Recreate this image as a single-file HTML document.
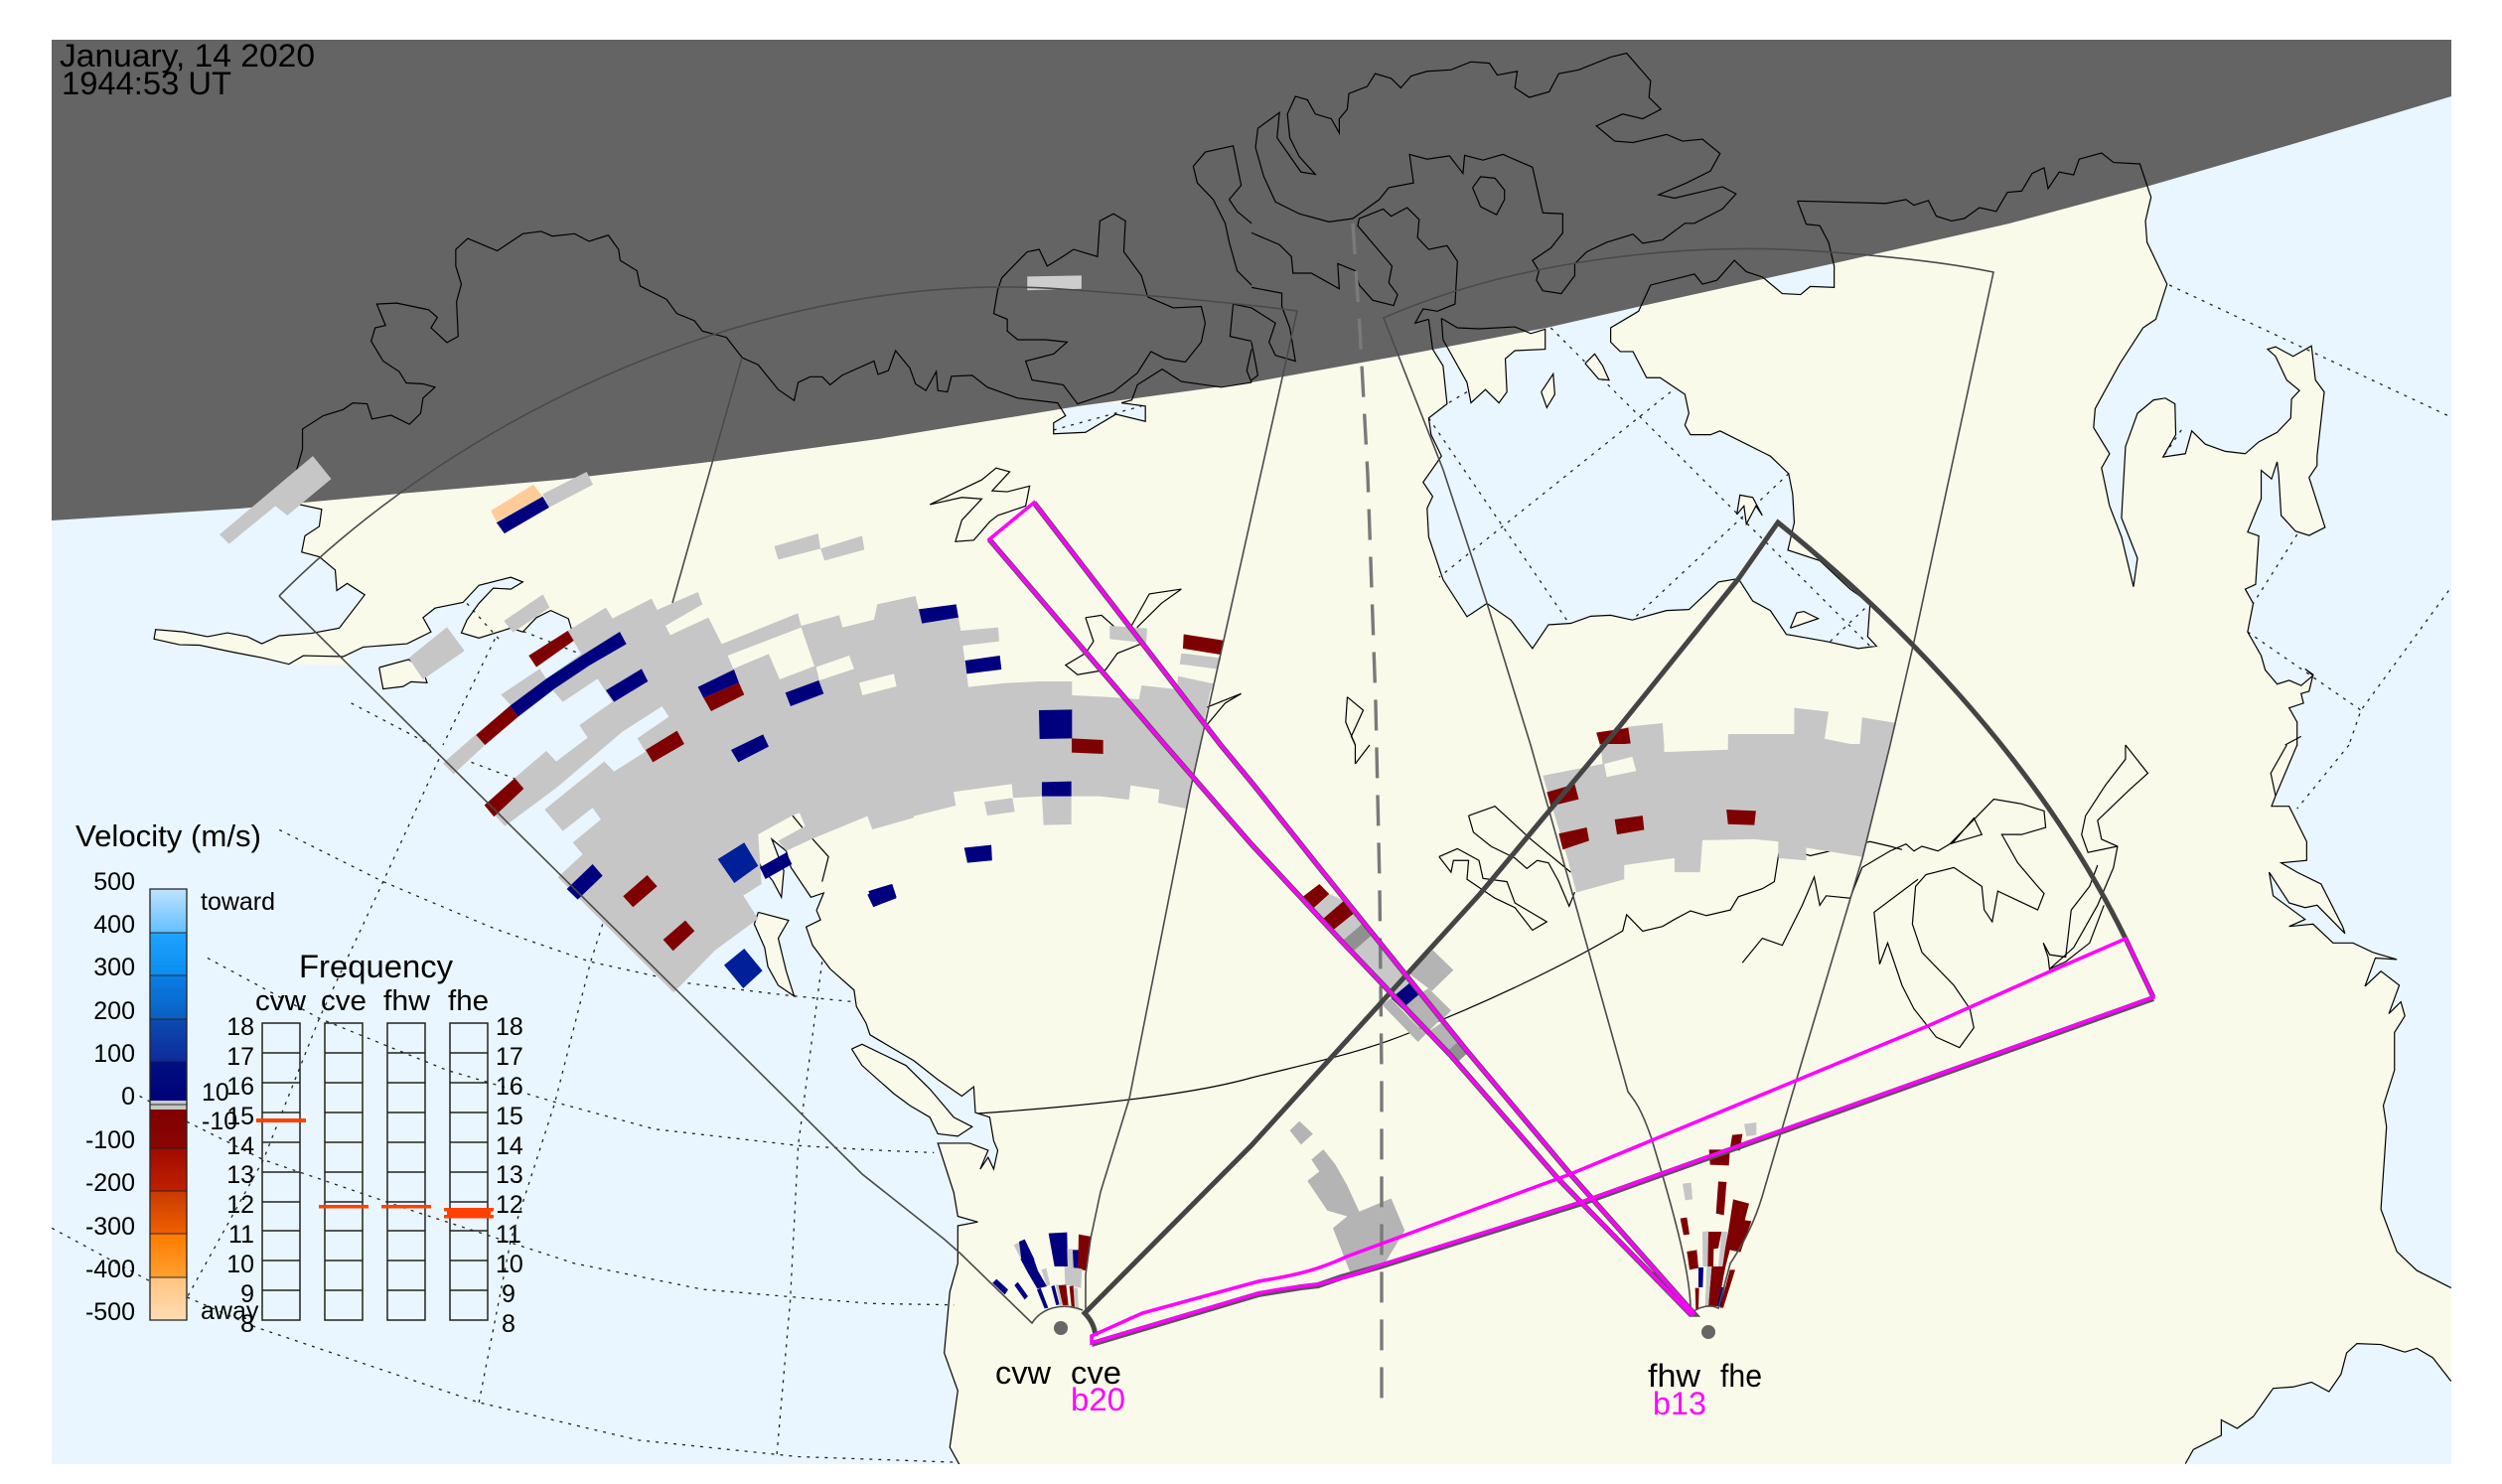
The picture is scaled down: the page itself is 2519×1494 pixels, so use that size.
<!DOCTYPE html>
<html><head><meta charset="utf-8"><style>
html,body{margin:0;padding:0;background:#fff;width:2519px;height:1494px;overflow:hidden}
svg{display:block;font-family:"Liberation Sans",Helvetica,Arial,sans-serif}
polyline,polygon,path,line,rect{vector-effect:non-scaling-stroke}
.c polyline,.c polygon,.c use{fill:none;stroke:#000;stroke-width:1.2}
.d polyline{fill:none;stroke:#222;stroke-width:1.3;stroke-dasharray:3 6}
.g{fill:#c6c6c6}.n{fill:#00007f}.r{fill:#7f0000}.b{fill:#001f99}.k{fill:#909090}.h{fill:#b4b4b4}.q{fill:#c8c8c8}
.f{fill:none;stroke:#4a4a4a;stroke-width:1.6}
.t{fill:none;stroke:#444;stroke-width:5}
.p{fill:none;stroke:#ff00ff;stroke-width:3.5}
.u{fill:none;stroke:#555;stroke-width:6}
</style></head><body>
<svg width="2519" height="1494" viewBox="0 0 2519 1494" xmlns="http://www.w3.org/2000/svg">
<defs>
<clipPath id="m"><rect x="52" y="40" width="2416" height="1434"/></clipPath>
<polyline id="hud" points="684,423 695,472 712,475 723,510 730,560 730,605 700,603 688,620 665,618 640,583 620,572 605,548 583,590 565,598 555,577 500,600 485,655 450,690 450,720 462,740 478,740 495,795 512,795 543,830 548,870 543,895 550,915 575,915 587,907 650,960 673,997 678,1040 680,1100 672,1158 712,1180 750,1240 775,1270 772,1340 783,1360 760,1365 720,1350 670,1335 650,1285 628,1265 610,1218 585,1225 548,1283 520,1285 477,1305 450,1295 425,1297 400,1312 372,1315 352,1365 325,1305 295,1270 270,1298 240,1220 222,1130 220,1070 227,1045 215,1015 238,960 225,915 222,880 245,850 240,770 227,735 222,672"/>
<polyline id="mel" points="238,670 258,690 285,692 330,688 350,702 368,693 368,735 330,738 318,755 320,825 310,848 293,820 275,848 270,805 260,775 240,715 238,670"/>
<polyline id="gulf" points="1170,1525 1180,1495 1215,1465 1215,1432 1235,1450 1255,1425 1280,1365 1305,1362 1328,1352 1350,1372 1365,1335 1372,1290 1385,1270 1415,1272 1445,1288 1460,1280 1480,1300 1503,1350 1560,1560 1170,1560"/>
<polyline id="small1" points="1320,913 1320,890 1335,875 1325,848 1405,848 1435,855 1435,887 1398,872 1360,910 1320,913"/>
<polygon id="pen" points="193,1345 195,1325 230,1330 260,1340 285,1332 310,1340 328,1355 350,1338 390,1333 425,1322 440,1400 362,1398 330,1385 290,1372 250,1358 225,1357"/>
<linearGradient id="a0" x1="0" y1="0" x2="0" y2="1"><stop offset="0" stop-color="#bfe3ff"/><stop offset="1" stop-color="#62bfff"/></linearGradient>
<linearGradient id="a1" x1="0" y1="0" x2="0" y2="1"><stop offset="0" stop-color="#1fa3ff"/><stop offset="1" stop-color="#0a8eef"/></linearGradient>
<linearGradient id="a2" x1="0" y1="0" x2="0" y2="1"><stop offset="0" stop-color="#0a7fe6"/><stop offset="1" stop-color="#0a5fc0"/></linearGradient>
<linearGradient id="a3" x1="0" y1="0" x2="0" y2="1"><stop offset="0" stop-color="#0c4cb0"/><stop offset="1" stop-color="#0e2a9a"/></linearGradient>
<linearGradient id="a4" x1="0" y1="0" x2="0" y2="1"><stop offset="0" stop-color="#00107f"/><stop offset="1" stop-color="#00007a"/></linearGradient>
<linearGradient id="a5" x1="0" y1="0" x2="0" y2="1"><stop offset="0" stop-color="#7f0000"/><stop offset="1" stop-color="#8c0505"/></linearGradient>
<linearGradient id="a6" x1="0" y1="0" x2="0" y2="1"><stop offset="0" stop-color="#a00a00"/><stop offset="1" stop-color="#c02000"/></linearGradient>
<linearGradient id="a7" x1="0" y1="0" x2="0" y2="1"><stop offset="0" stop-color="#c83a00"/><stop offset="1" stop-color="#f06000"/></linearGradient>
<linearGradient id="a8" x1="0" y1="0" x2="0" y2="1"><stop offset="0" stop-color="#ff7a00"/><stop offset="1" stop-color="#ffa030"/></linearGradient>
<linearGradient id="a9" x1="0" y1="0" x2="0" y2="1"><stop offset="0" stop-color="#ffc480"/><stop offset="1" stop-color="#ffdcb4"/></linearGradient>
</defs>
<rect width="2519" height="1494" fill="#fff"/>
<g clip-path="url(#m)">
<rect x="52" y="40" width="2416" height="1434" fill="#fafaeb"/>

<!-- water fills -->
<g fill="#e9f6ff">
<g transform="scale(.8036 .4783)">
<polygon points="-50,900 378,900 370,1060 403,1072 400,1108 382,1128 378,1162 400,1172 420,1200 422,1243 435,1228 457,1252 425,1322 390,1333 350,1338 328,1355 310,1340 285,1332 260,1340 230,1330 195,1325 193,1345 225,1357 250,1358 290,1372 330,1385 362,1398 380,1380 430,1382 455,1362 510,1355 540,1330 530,1300 545,1280 580,1268 600,1232 640,1215 655,1225 640,1240 618,1238 600,1270 585,1305 578,1332 600,1343 640,1322 655,1330 672,1300 690,1285 712,1302 718,1335 855,1478 896,1570 -50,1570"/>
<use href="#small1"/>
</g>
<g transform="translate(0 750) scale(.8036 .4745)">
<polygon points="896,-2 937,90 946,193 950,246 954,260 968,288 979,323 982,267 967,200 985,225 991,260 1016,323 1032,314 1023,351 1028,371 1010,386 1018,425 1040,475 1070,520 1073,555 1085,590 1090,615 1145,670 1175,710 1205,745 1220,725 1222,780 1240,790 1245,840 1250,860 1245,900 1238,875 1228,900 1238,860 1215,845 1175,845 1195,950 1200,1000 1225,1012 1200,1020 1200,1100 1190,1160 1183,1290 1200,1370 1190,1490 1203,1530 -50,1530 -50,-2"/>
</g>
<g transform="translate(1260 0) scale(.8036 .4783)">
<use href="#hud"/>
<polygon points="1113,345 1127,415 1120,465 1122,510 1147,598 1133,672 1117,690 1088,765 1057,860 1055,900 1075,955 1065,985 1075,1065 1090,1130 1105,1235 1110,1175 1090,1090 1095,940 1110,870 1130,842 1145,838 1157,850 1158,915 1142,962 1170,955 1178,907 1195,935 1220,950 1245,955 1262,930 1285,910 1302,880 1303,840 1313,822 1297,800 1283,750 1273,735 1283,730 1305,750 1328,728 1333,800 1344,825 1335,960 1335,980 1325,1005 1345,1110 1325,1127 1308,1118 1290,1085 1287,1000 1285,972 1278,1008 1265,990 1265,1050 1248,1120 1262,1128 1258,1230 1245,1240 1255,1270 1248,1330 1265,1380 1270,1410 1285,1440 1300,1432 1315,1443 1330,1422 1320,1408 1330,1420 1325,1455 1315,1460 1318,1480 1300,1490 1310,1520 1310,1570 1700,1570 1700,200 1113,200"/>
</g>
<g transform="translate(1260 750) scale(.8036 .4745)">
<polygon points="1310,-2 1283,108 1278,130 1300,130 1322,205 1322,245 1290,250 1310,270 1340,295 1367,385 1370,400 1335,340 1320,345 1300,335 1275,270 1280,320 1320,370 1300,385 1330,380 1355,420 1380,420 1405,440 1435,455 1408,452 1395,512 1415,480 1438,510 1425,570 1440,545 1445,575 1432,610 1432,690 1418,765 1422,810 1415,985 1435,1075 1460,1115 1503,1152 1600,1200 1700,1200 1700,-2"/>
<use href="#gulf"/>
</g>
</g>

<!-- grid lines -->
<g class="d">
<g transform="translate(0 750) scale(.8036 .4745)">
<polyline points="350,180 480,290 620,390 740,460 820,490 860,505 980,530 1070,545"/>
<polyline points="260,452 400,580 560,690 700,760 820,815 1000,850 1100,860 1170,865"/>
<polyline points="175,745 235,800 330,880 520,990 720,1100 880,1155 1090,1185 1195,1188"/>
<polyline points="65,1025 185,1135 320,1235 600,1395 800,1475 1000,1510 1200,1522"/>
<polyline points="550,30 480,290 400,580 330,880 235,1170"/>
<polyline points="755,380 740,460 695,760 640,1050 600,1395"/>
<polyline points="1030,460 1000,850 990,1180 973,1510"/>
<polyline points="580,30 690,100"/>
</g>
<g transform="scale(.8036 .4783)">
<polyline points="1320,905 1430,855"/>
<polyline points="585,1270 625,1345"/>
<polyline points="620,1345 555,1568"/>
<polyline points="645,1322 725,1375"/>
<polyline points="440,1480 540,1568"/>
</g>
<g transform="translate(1260 0) scale(.8036 .4783)">
<polyline points="1150,600 1503,878"/>
<polyline points="1500,1243 1390,1495 1375,1568"/>
<polyline points="1310,1125 1255,1270"/>
<polyline points="1248,1330 1390,1495"/>
<polyline points="375,690 775,1360"/>
<polyline points="525,825 235,1215"/>
<polyline points="673,997 477,1305"/>
<polyline points="222,880 395,1305"/>
<polyline points="725,1350 775,1270"/>
<polyline points="270,825 245,850"/>
<polyline points="1165,905 1142,962"/>
</g>
<g transform="translate(1260 750) scale(.8036 .4745)">
<polyline points="1375,0 1310,135"/>
</g>
</g>

<!-- land islands -->
<g fill="#fafaeb">
<g transform="scale(.8036 .4783)">
<polygon points="475,1405 480,1450 505,1445 515,1435 535,1437 530,1410 512,1388"/>
<use href="#pen"/>
</g>
<g transform="translate(0 750) scale(.8036 .4745)">
<polygon points="1067,645 1080,635 1135,680 1165,730 1195,790 1218,810 1200,830 1175,825 1165,790 1140,765 1120,740 1080,680"/>
<polygon points="950,355 988,372 975,410 985,480 995,533 975,510 962,470 958,430 945,380"/>
</g>
<g transform="translate(1260 0) scale(.8036 .4783)">
<use href="#mel"/>
<polygon points="418,765 430,745 440,770 448,800 435,798"/>
<polygon points="363,825 378,787 380,830 370,858"/>
<polygon points="608,1083 612,1042 628,1047 640,1085 632,1065 620,1103 617,1065"/>
<polygon points="675,1322 683,1290 692,1287 710,1302"/>
</g>
</g>

<!-- night -->
<polygon fill="#646464" points="52,40 2468,40 2468,97 2305,146 2164,187 2023,225 1847,265 1662,306 1557,330 1421,356 1260,385 1085,409 884,442 723,464 563,483 402,497 241,512 52,524"/>

<!-- coast lines -->
<g class="c">
<g transform="scale(.8036 .4783)">
<polyline points="370,1000 379,945 379,903 405,875 430,862 442,848 460,850 466,882 490,874 513,893 527,870 530,838 545,815 530,808 509,806 500,782 480,760 465,718 470,690 483,685 472,640 497,638 537,652 548,668 540,690 560,721 574,708 572,635 578,598 571,560 571,525 586,502 623,528 655,492 678,487 692,497 720,492 738,508 762,495 775,525 777,548 798,570 802,602 835,630 848,660 870,675 880,697 910,710 930,753 950,768 975,820 995,843 1000,805 1015,793 1030,793 1040,810 1055,790 1095,760 1100,788 1113,780 1122,738 1140,775 1147,808 1160,822 1173,782 1175,822 1187,825 1192,792 1218,790 1237,815 1275,838 1325,848 1335,875 1320,890 1320,913 1360,910 1398,872 1435,887 1435,855 1405,848 1418,842 1425,810 1456,777 1480,803 1530,815 1568,805"/>
<polyline points="370,1060 403,1072 400,1108 382,1128 378,1162 400,1172 420,1200 422,1243 435,1228 457,1252 425,1322 390,1333 350,1338 328,1355 310,1340 285,1332 260,1340 230,1330 195,1325 193,1345 225,1357 250,1358 290,1372 330,1385 362,1398 380,1380 430,1382 455,1362 510,1355 540,1330 530,1300 545,1280 580,1268 600,1232 640,1215 655,1225 640,1240 618,1238 600,1270 585,1305 578,1332 600,1343 640,1322 655,1330 672,1300 690,1285 712,1302 718,1335"/>
<polyline points="475,1405 480,1450 505,1445 515,1435 535,1437 530,1410 512,1388 475,1405"/>
<polyline points="1250,610 1245,660 1262,672 1262,697 1275,715 1310,715 1337,720 1320,745 1285,760 1293,800 1332,810 1350,850 1395,825 1425,785 1442,740 1460,755 1485,762 1505,720 1510,680 1505,645 1470,648 1438,625 1430,580 1408,530 1410,465 1395,450 1378,465 1375,540 1345,525 1327,545 1312,560 1302,525 1287,530 1255,585 1250,610"/>
<polyline points="1568,600 1550,570 1540,510 1535,470 1520,420 1500,385 1495,350 1510,320 1545,307 1555,390 1540,420 1550,445 1568,470"/>
<polyline points="1568,648 1545,640 1541,708 1568,718"/>
<polyline points="1568,735 1562,780 1568,805"/>
<polyline points="1165,1062 1230,1010 1248,985 1265,993 1243,1033 1262,1035 1290,1023 1285,1065 1250,1085 1240,1098 1220,1137 1197,1140 1205,1095 1230,1050 1205,1047 1165,1062"/>
<polyline points="1360,1300 1380,1295 1410,1340 1440,1250 1480,1240 1455,1270 1425,1320 1430,1355 1400,1375 1385,1410 1350,1420 1335,1400 1360,1375 1370,1350 1360,1300"/>
<polyline points="1510,1490 1555,1460 1535,1480 1510,1530"/>
</g>
<g transform="translate(0 750) scale(.8036 .4745)">
<polyline points="946,193 950,246 954,260 968,288 979,323 982,267 967,200 985,225 991,260 1016,323 1032,314 1023,351 1028,371 1010,386 1018,425 1040,475 1070,520 1073,555 1085,590 1090,615 1145,670 1175,710 1205,745 1220,725 1222,780 1240,790 1245,840 1250,860 1245,900 1238,875 1228,900 1238,860 1215,845 1175,845 1195,950 1200,1000 1225,1012 1200,1020 1200,1100 1190,1160 1183,1290 1200,1370 1190,1490 1203,1530"/>
<polyline points="1067,645 1080,635 1135,680 1165,730 1195,790 1218,810 1200,830 1175,825 1165,790 1140,765 1120,740 1080,680 1067,645"/>
<polyline points="950,355 988,372 975,410 985,480 995,533 975,510 962,470 958,430 945,380 950,355"/>
<polyline points="993,150 1005,175 1038,237 1030,290"/>
</g>
<g transform="translate(1260 0) scale(.8036 .4783)">
<use href="#mel"/>
<use href="#hud"/>
<polyline points="684,423 795,428 820,420 830,432 848,422 858,455 877,465 893,460 912,437 933,445 947,405 965,402 978,365 993,353 998,397 1012,362 1030,368 1037,335 1065,322 1080,342 1113,345 1127,415 1120,465 1122,510 1147,598 1133,672 1117,690 1088,765 1057,860 1055,900 1075,955 1065,985 1075,1065 1090,1130 1105,1235 1110,1175 1090,1090 1095,940 1110,870 1130,842 1145,838 1157,850 1158,915 1142,962 1170,955 1178,907 1195,935 1220,950 1245,955 1262,930 1285,910 1302,880 1303,840 1313,822 1297,800 1283,750 1273,735 1283,730 1305,750 1328,728 1333,800 1344,825 1335,960 1335,980 1325,1005 1345,1110 1325,1127 1308,1118 1290,1085 1287,1000 1285,972 1278,1008 1265,990 1265,1050 1248,1120 1262,1128 1258,1230 1245,1240 1255,1270 1248,1330 1265,1380 1270,1410 1285,1440 1300,1432 1315,1443 1330,1422 1320,1408 1330,1420 1325,1455 1315,1460 1318,1480 1300,1490 1310,1520 1310,1570"/>
<polyline points="1295,1568 1315,1550"/>
<polyline points="0,490 35,515 50,540 52,575 75,575 110,608 108,555 130,570 135,600 152,632 178,643 183,620 172,595 176,560 133,475 135,460 165,440 175,455 195,437 210,462 208,500 222,525 245,517 258,550 255,640 233,655 215,650 205,680 222,672"/>
<polyline points="8,270 35,237 32,290 62,362 80,367 60,330 48,290 45,240 55,203 70,210 80,240 100,250 110,280 110,250 120,230 122,197 145,182 155,155 175,165 187,185 200,160 220,150 250,147 275,130 298,133 308,158 333,150 330,185 348,205 373,193 385,155 410,147 450,120 470,112 500,170 498,205 513,230 490,250 465,240 432,265 455,297 478,300 520,283 540,297 565,293 587,323 575,360 545,385 510,410 530,417 590,393 607,408 590,440 555,470 543,470 515,505 490,512 478,493 445,510 420,530 405,555 405,580 388,618 365,612 357,590 360,570 352,548 375,522 390,490 390,450 365,448 352,352 315,325 290,337 267,327 265,365 248,328 220,335 198,325 203,385 172,395 160,420 127,460 97,467 60,450 30,425 15,370 5,310 8,270"/>
<polyline points="277,395 287,372 305,375 317,400 317,420 307,452 287,435 277,395"/>
<polyline points="0,605 38,617 38,645 48,690 55,760 30,748 22,720 30,680 0,648"/>
<polyline points="0,720 8,790 0,800"/>
<polyline points="418,765 430,745 440,770 448,800 435,798 418,765"/>
<polyline points="363,825 378,787 380,830 370,858 363,825"/>
<polyline points="608,1083 612,1042 628,1047 640,1085 632,1065 620,1103 617,1065 608,1083"/>
<polyline points="675,1322 683,1290 692,1287 710,1302 675,1322"/>
<polyline points="120,1467 140,1495 125,1550 130,1568"/>
<polyline points="120,1467 118,1520 130,1568"/>
</g>
<g transform="translate(1260 750) scale(.8036 .4745)">
<polyline points="130,40 148,0"/><polyline points="130,40 130,0"/>
<polyline points="1310,0 1283,108 1278,130 1300,130 1322,205 1322,245 1290,250 1310,270 1340,295 1367,385 1370,400 1335,340 1320,345 1300,335 1275,270 1280,320 1320,370 1300,385 1330,380 1355,420 1380,420 1405,440 1435,455 1408,452 1395,512 1415,480 1438,510 1425,570 1440,545 1445,575 1432,610 1432,690 1418,765 1422,810 1415,985 1435,1075 1460,1115 1503,1152"/>
<polyline points="1297,0 1277,60 1283,108"/>
<polyline points="1170,1525 1180,1495 1215,1465 1215,1432 1235,1450 1255,1425 1280,1365 1305,1362 1328,1352 1350,1372 1365,1335 1372,1290 1385,1270 1415,1272 1445,1288 1460,1280 1480,1300 1503,1350"/>
<polyline points="465,395 470,360 490,395 515,385 530,370 550,352 570,362 600,350 610,322 640,305 655,290 662,215 700,235 775,205 800,215 815,222"/>
<polyline points="615,462 640,410 665,425 690,340 705,280 712,340 720,320 750,325 765,260 800,225 820,210 830,225 840,215 860,225 880,205 905,155 915,190 875,210 930,115 965,125 993,140 995,175 965,190 940,190 960,250 985,300 993,315 985,350 935,310 928,375 918,350 915,300 880,260 845,275 832,300 828,380 840,440 880,510 900,560 905,600 887,642 858,620 830,560 815,510 797,420 787,465 780,355 835,285"/>
<polyline points="272,150 305,130 350,200 400,270"/>
<polyline points="235,237 258,220 285,245 290,283 320,290 330,335 370,375 352,393 330,345 305,325 270,285 272,245 253,245 250,270 235,237"/>
<polyline points="272,150 278,185 300,215 330,240 345,262 358,245 372,250 385,290 398,342 405,312"/>
<polyline points="1095,0 1123,60 1100,95 1060,160 1065,200 1085,215 1080,260 1060,340 1030,430 1000,475 1020,460 1050,420 1068,340"/>
<polyline points="1095,0 1095,30 1070,85 1045,150 1040,190 1048,228 1085,215"/>
<polyline points="1000,478 998,450 992,420 1000,445 1020,450 1027,350 1050,300 1060,255"/>
</g>
</g>
<path fill="none" stroke="#000" stroke-width="1.2" d="M984 1121C1100 1113 1200 1102 1260 1085C1320 1070 1370 1060 1421 1039C1490 1012 1570 975 1634 937"/>

<!-- gates -->
<g transform="scale(.8036 .4783)">
<polygon class="g" points="275,1125 392,960 415,1008 360,1085 345,1065 287,1145"/>
<polygon class="g" points="512,1385 560,1320 582,1370 530,1430"/>
<polygon class="g" points="680,1040 735,993 743,1020 688,1068"/>
<polygon fill="#ffcc99" points="615,1075 668,1020 680,1045 622,1098"/>
<polygon class="n" points="622,1100 680,1045 688,1068 632,1123"/>
<polygon class="g" points="970,1150 1025,1123 1028,1155 975,1178"/>
<polygon class="g" points="1028,1155 1080,1128 1083,1157 1033,1180"/>
<polygon fill="#cdcdcd" points="1287,582 1355,580 1355,608 1287,611"/>
<polygon class="g" points="1480,1375 1530,1385 1525,1408 1478,1398"/>
<polygon class="r" points="1483,1335 1533,1348 1530,1378 1482,1365"/>
</g>
<!-- right part of the main band -->
<g transform="translate(880 580) scale(.3333)">
<polygon class="g" points="0,130 10,85 125,60 135,100 248,85 262,165 375,155 378,197 268,210 285,335 400,323 500,318 598,318 598,360 700,365 800,372 808,330 915,342 918,302 1025,325 1015,350 945,703 858,685 862,645 775,632 770,675 680,665 596,665 596,750 512,752 507,665 420,670 416,628 240,652 247,693 100,730 0,762"/>
<polygon class="g" points="333,682 418,670 425,712 342,723"/>
<polygon class="g" points="712,150 825,158 822,202 712,190"/>
</g>
<g transform="translate(420 580) scale(.3333)">
<polygon class="g" points="262,135 380,55 400,95 290,170"/>
<polygon class="g" points="775,1258 900,1130 1030,1035 985,965 1040,930 1030,780 1130,725 1155,715 1172,755 1090,800 1115,830 1190,795 1360,725 1375,765 1500,730 1500,65 1390,85 1395,128 1285,155 1275,118 1160,150 1150,112 920,205 880,125 765,178 750,150 862,85 848,48 725,102 708,68 590,128 570,95 455,165 495,235 390,310 370,280 253,358 283,390 175,480 78,565 110,598 205,510 305,425 410,345 440,380 545,310 590,380 490,450 515,488 420,560 390,528 300,605 205,690 240,728 265,755 420,640 620,470 740,393 760,425 665,490 690,530 595,590 565,560 385,705 440,770 530,700 555,735 470,805 500,840 425,910"/>
<polygon fill="#fafaeb" points="938,240 1160,155 1200,272 1095,312 1062,235 955,280"/>
<polygon fill="#fafaeb" points="1205,275 1305,240 1320,280 1215,315"/>
<polygon fill="#fafaeb" points="1335,322 1440,295 1448,333 1345,360"/>
<polygon class="r" points="337,240 455,165 473,195 360,275"/>
<polygon class="n" points="280,392 390,310 500,238 612,168 632,205 520,270 415,340 305,425"/>
<polygon class="r" points="178,480 280,392 305,425 205,510"/>
<polygon class="r" points="203,692 295,610 322,642 232,727"/>
<polygon class="n" points="570,345 678,280 697,318 595,380"/>
<polygon class="n" points="848,335 957,282 972,322 865,368"/>
<polygon class="r" points="865,368 972,322 988,358 888,408"/>
<polygon class="n" points="1112,352 1213,315 1228,355 1128,393"/>
<polygon class="r" points="690,525 785,467 807,507 712,562"/>
<polygon class="n" points="948,525 1045,478 1062,515 970,562"/>
<polygon class="b" points="908,855 988,805 1030,875 958,927"/>
<polygon class="n" points="1035,880 1115,835 1132,870 1052,915"/>
<polygon class="n" points="452,945 530,870 560,905 485,977"/>
<polygon class="r" points="622,967 695,903 725,937 652,1000"/>
<polygon class="r" points="743,1098 810,1040 838,1072 773,1132"/>
<polygon class="b" points="927,1175 988,1125 1043,1192 985,1245"/>
<polygon class="n" points="1360,962 1435,930 1448,970 1378,1000"/>
</g>
<g transform="translate(880 580) scale(.3333)">
<polygon class="n" points="135,100 248,85 255,125 145,143"/>
<polygon class="n" points="275,255 380,240 385,282 280,295"/>
<polygon class="n" points="498,405 598,403 598,490 500,492"/>
<polygon class="r" points="597,490 692,495 692,537 597,533"/>
<polygon class="n" points="507,622 596,620 596,665 507,665"/>
</g>
<g transform="translate(0 750) scale(.8036 .4745)">
<polygon class="n" points="1208,218 1242,212 1243,245 1212,250"/>
<polygon class="n" points="1088,310 1117,295 1123,325 1095,343"/>
</g>
<g transform="translate(1260 0) scale(.8036 .4783)">
<polygon class="g" points="435,1570 470,1530 515,1522 517,1570 597,1570 597,1545 680,1545 680,1490 723,1498 718,1555 762,1570 765,1510 808,1522 800,1570"/>
<polygon class="r" points="432,1542 472,1532 475,1565 437,1570"/>
</g>
<g transform="translate(1260 750) scale(.8036 .4745)">
<polygon class="g" points="437,-2 517,-2 517,15 597,10 597,-2 800,-2 767,238 695,218 695,245 660,240 660,205 630,200 565,202 562,270 530,270 530,240 467,255 467,285 407,313 395,235 365,65 440,40"/>
<polygon fill="#fafaeb" points="442,40 477,25 482,55 445,68"/>
<polygon class="r" points="370,100 405,83 410,115 375,130"/>
<polygon class="r" points="385,188 420,175 423,203 390,222"/>
<polygon class="r" points="455,158 490,150 492,180 458,190"/>
<polygon class="r" points="595,137 632,140 630,170 597,168"/>
<polygon class="h" points="48,818 60,798 77,825 62,848"/>
<polygon class="h" points="75,880 90,858 105,890 120,935 135,990 175,962 192,1030 165,1105 125,1125 102,1025 120,1000 95,988 70,925 85,905"/>
</g>
<!-- central beam gates -->
<g transform="translate(1300 900) scale(.3333)">
<polygon class="r" points="30,12 65,45 115,0 85,-30"/>
<polygon class="q" points="65,45 115,0 160,20 90,80"/>
<polygon class="r" points="90,80 160,20 188,60 122,113"/>
<polygon class="q" points="122,113 188,60 215,90 150,145"/>
<polygon class="k" points="150,145 215,90 243,125 180,180"/>
<polygon class="q" points="180,180 243,125 362,265 302,315"/>
<polygon class="h" points="355,240 428,170 490,230 425,293"/>
<polygon class="h" points="415,285 483,352 460,375 390,300"/>
<polygon class="h" points="275,335 300,315 405,425 383,447"/>
<polygon class="h" points="335,347 390,300 455,375 405,425"/>
<polygon class="h" points="415,415 460,385 505,445 470,475"/>
<polygon class="k" points="470,475 505,445 533,480 497,513"/>
<polygon class="n" points="302,315 362,265 390,300 335,347"/>
</g>
<g transform="translate(950 1200) scale(.3333)">
<polygon class="n" points="148,275 160,263 195,295 185,310"/>
<polygon class="n" points="214,282 224,272 255,315 245,325"/>
<polygon class="g" points="212,160 232,150 245,195 232,200"/>
<polygon class="n" points="228,150 245,143 275,205 250,200 235,205"/>
<polygon class="n" points="232,202 270,195 285,238 312,285 283,292 255,245"/>
<polygon class="n" points="282,295 293,290 316,350 305,352"/>
<polygon class="g" points="295,235 310,230 322,280 312,285"/>
<polygon class="n" points="317,125 373,122 375,225 335,225"/>
<polygon class="g" points="373,172 390,172 390,232 375,232"/>
<polygon class="n" points="390,175 408,175 408,230 392,230"/>
<polygon class="r" points="408,128 447,135 432,238 406,232"/>
<polygon class="g" points="365,225 418,232 415,290 367,280"/>
<polygon class="n" points="325,285 335,282 350,340 340,342"/>
<polygon class="g" points="338,280 350,280 358,340 352,342"/>
<polygon class="r" points="347,282 370,280 377,342 360,342"/>
<polygon class="r" points="380,285 392,283 396,347 386,345"/>
<polygon class="g" points="392,290 405,290 408,350 398,348"/>
</g>
<g transform="translate(1620 1120) scale(.3333)">
<polygon class="g" points="408,35 445,30 445,68 415,72"/>
<polygon class="r" points="372,68 403,65 395,115 365,112"/>
<polygon class="r" points="302,112 365,112 362,160 305,158"/>
<polygon class="g" points="222,215 248,212 252,262 230,265"/>
<polygon class="r" points="330,208 355,210 347,310 323,305"/>
<polygon class="r" points="375,262 423,275 410,325 430,328 397,422 365,415 352,465 345,500 330,585 300,585 310,465 340,465 360,360"/>
<polygon class="r" points="215,320 235,317 243,368 225,370"/>
<polygon class="g" points="282,360 300,358 298,465 283,465"/>
<polygon class="r" points="300,360 340,360 330,410 316,412 315,465 298,465"/>
<polygon class="g" points="340,360 358,360 343,465 330,465"/>
<polygon class="r" points="235,420 265,415 270,470 243,475"/>
<polygon class="n" points="270,468 285,468 283,528 270,528"/>
<polygon class="r" points="260,530 272,530 270,595 262,595"/>
<polygon class="g" points="295,465 310,465 300,585 290,585"/>
<polygon class="n" points="338,528 350,528 337,587 327,585"/>
<polygon class="r" points="365,475 381,475 345,590 335,590"/>
<polygon class="r" points="125,490 140,475 255,605 245,610"/>
</g>

<!-- terminator dash -->
<polyline fill="none" stroke="#7a7a7a" stroke-width="3.4" stroke-dasharray="31 17" points="1362,225 1369,330 1377,478 1385,708 1389,892 1391,1083 1391,1414"/>

<!-- FOV -->
<path class="f" d="M281 600C470 410 780 270 1069 291C1150 297 1230 303 1306 313L1198 797L1137 1106L1108 1200L1098 1247L1093 1283L1093 1318"/>
<path class="f" d="M281 600L868 1182L950 1247L967 1262L1039 1332C1048 1318 1068 1310 1090 1319"/>
<polyline class="f" points="747,360 677,607"/>
<path class="f" d="M1702 1323C1703 1290 1690 1235 1662 1144C1650 1110 1643 1105 1639 1099L1581 892L1541 750L1497 607L1453 473L1393 320C1530 260 1700 245 1815 252C1880 256 1950 262 2007 274L1927 646L1903 750L1875 864L1806 1096L1774 1205C1765 1235 1750 1260 1742 1272L1730 1317C1722 1313 1710 1315 1702 1323Z"/>
<path class="t" d="M1103 1345C1102 1335 1098 1328 1092 1322L1260 1153L1490 900L1630 732L1750 583L1790 526C1900 615 2050 760 2140 945L2168 1004"/>
<polyline class="u" points="1099,1353 1267,1303 1310,1296 1327,1294 1350,1286 1389,1275 1593,1211 2168,1005"/>
<polyline class="u" style="stroke-width:5.5" points="996,543 1173,750 1260,850 1352,949 1461,1063 1569,1187 1702,1323 1706,1323 1581,1182 1477,1058 1332,878 1262,790 1229,750 1041,506"/>
<path class="p" d="M1099 1345L1150 1322L1267 1290C1290 1286 1320 1282 1356 1265L1581 1182L1943 1032L2064 978L2140 945L2168 1004L1593 1210L1389 1274C1360 1285 1345 1288 1327 1293C1310 1295 1290 1297 1267 1302L1099 1352Z"/>
<polyline class="p" points="1706,1323 1581,1182 1477,1058 1332,878 1262,790 1229,750 1041,506 996,543 1173,750 1260,850 1352,949 1461,1063 1569,1187 1702,1323 1706,1323"/>
<circle cx="1068" cy="1337" r="7" fill="#666"/>
<circle cx="1720" cy="1341" r="7" fill="#666"/>
</g>

<!-- Date -->
<g font-size="32.5" fill="#000">
<text x="60" y="67" textLength="257" lengthAdjust="spacingAndGlyphs">January, 14 2020</text>
<text x="62" y="95" textLength="171" lengthAdjust="spacingAndGlyphs">1944:53 UT</text>
</g>

<!-- site labels -->
<g font-size="32">
<text x="1002" y="1393" textLength="56" lengthAdjust="spacingAndGlyphs">cvw</text>
<text x="1078" y="1393" textLength="51" lengthAdjust="spacingAndGlyphs">cve</text>
<text x="1659" y="1396" textLength="53" lengthAdjust="spacingAndGlyphs">fhw</text>
<text x="1732" y="1396" textLength="42" lengthAdjust="spacingAndGlyphs">fhe</text>
<text x="1078" y="1420" fill="#ff00ff" textLength="55" lengthAdjust="spacingAndGlyphs">b20</text>
<text x="1664" y="1424" fill="#ff00ff" textLength="54" lengthAdjust="spacingAndGlyphs">b13</text>
</g>

<!-- velocity legend -->
<text x="76" y="852" font-size="31" textLength="187" lengthAdjust="spacingAndGlyphs">Velocity (m/s)</text>
<g font-size="25" text-anchor="end">
<text x="136" y="896">500</text><text x="136" y="939">400</text><text x="136" y="982">300</text><text x="136" y="1026">200</text><text x="136" y="1069">100</text><text x="136" y="1112">0</text><text x="136" y="1156">-100</text><text x="136" y="1199">-200</text><text x="136" y="1243">-300</text><text x="136" y="1286">-400</text><text x="136" y="1329">-500</text>
</g>
<rect x="151" y="895" width="37" height="44" fill="url(#a0)"/>
<rect x="151" y="939" width="37" height="43" fill="url(#a1)"/>
<rect x="151" y="982" width="37" height="44" fill="url(#a2)"/>
<rect x="151" y="1026" width="37" height="43" fill="url(#a3)"/>
<rect x="151" y="1069" width="37" height="39" fill="url(#a4)"/>
<rect x="151" y="1108" width="37" height="9" fill="#c6c6c6"/>
<rect x="151" y="1117" width="37" height="39" fill="url(#a5)"/>
<rect x="151" y="1156" width="37" height="43" fill="url(#a6)"/>
<rect x="151" y="1199" width="37" height="43" fill="url(#a7)"/>
<rect x="151" y="1242" width="37" height="44" fill="url(#a8)"/>
<rect x="151" y="1286" width="37" height="43" fill="url(#a9)"/>
<g stroke="#222" stroke-width="1.3" fill="none">
<rect x="151" y="895" width="37" height="434"/>
<path d="M151 939H188M151 982H188M151 1026H188M151 1068.5H188M151 1112H188M151 1156H188M151 1199H188M151 1242H188M151 1286H188" stroke-opacity=".75"/>
</g>
<g font-size="25">
<text x="202" y="916">toward</text><text x="202" y="1328">away</text>
<text x="203" y="1108">10</text><text x="203" y="1137">-10</text>
<text x="301" y="984" font-size="32" textLength="155" lengthAdjust="spacingAndGlyphs">Frequency</text>
</g>
<g font-size="29">
<text x="257" y="1017" textLength="51" lengthAdjust="spacingAndGlyphs">cvw</text>
<text x="323" y="1017" textLength="46" lengthAdjust="spacingAndGlyphs">cve</text>
<text x="386" y="1017" textLength="47" lengthAdjust="spacingAndGlyphs">fhw</text>
<text x="451" y="1017" textLength="41" lengthAdjust="spacingAndGlyphs">fhe</text>
</g>
<g font-size="25" text-anchor="end">
<text x="256" y="1042">18</text><text x="256" y="1072">17</text><text x="256" y="1102">16</text><text x="256" y="1132">15</text><text x="256" y="1162">14</text><text x="256" y="1191">13</text><text x="256" y="1221">12</text><text x="256" y="1251">11</text><text x="256" y="1281">10</text><text x="256" y="1311">9</text><text x="256" y="1341">8</text>
</g>
<g font-size="25">
<text x="499" y="1042">18</text><text x="499" y="1072">17</text><text x="499" y="1102">16</text><text x="499" y="1132">15</text><text x="499" y="1162">14</text><text x="499" y="1191">13</text><text x="499" y="1221">12</text><text x="499" y="1251">11</text><text x="499" y="1281">10</text><text x="505" y="1311">9</text><text x="505" y="1341">8</text>
</g>
<g fill="none" stroke="#222" stroke-width="1.5">
<path d="M264 1030H302V1329H264ZM264 1060H302M264 1090H302M264 1120H302M264 1150H302M264 1180H302M264 1210H302M264 1239H302M264 1269H302M264 1299H302"/>
<path d="M327 1030H365V1329H327ZM327 1060H365M327 1090H365M327 1120H365M327 1150H365M327 1180H365M327 1210H365M327 1239H365M327 1269H365M327 1299H365"/>
<path d="M390 1030H428V1329H390ZM390 1060H428M390 1090H428M390 1120H428M390 1150H428M390 1180H428M390 1210H428M390 1239H428M390 1269H428M390 1299H428"/>
<path d="M453 1030H491V1329H453ZM453 1060H491M453 1090H491M453 1120H491M453 1150H491M453 1180H491M453 1210H491M453 1239H491M453 1269H491M453 1299H491"/>
</g>
<g fill="#ff4000">
<rect x="258" y="1126" width="50" height="4"/>
<rect x="321" y="1213" width="50" height="3.5"/>
<rect x="384" y="1213" width="50" height="3.5"/>
<rect x="447" y="1216" width="50" height="3.5"/>
<rect x="450" y="1218" width="44" height="8"/>
<rect x="447" y="1223" width="50" height="3.5"/>
</g>
</svg>
</body></html>
